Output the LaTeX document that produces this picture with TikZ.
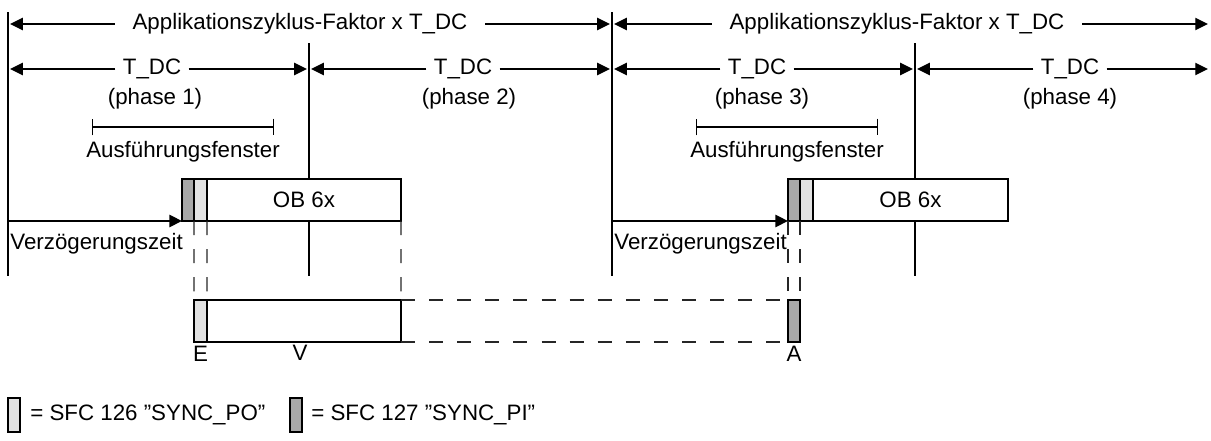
\documentclass[tikz,border=0pt]{standalone}
\usepackage{fontspec}
\setmainfont{Liberation Sans}
\usepackage{xcolor}
\usepackage{tikz}
\usetikzlibrary{arrows.meta,positioning}
\definecolor{sfcdark}{HTML}{A8A8A8}
\definecolor{sfclight}{HTML}{E2E2E2}
\tikzset{
    boundary/.style = {draw, line width=1.1pt},
    halfarrow/.style = {draw, line width=0.85pt, -{Triangle[length=7.2pt,width=7pt]}, shorten >=1.2pt},
    dimlabel/.style = {inner xsep=4pt, inner ysep=0pt},
    window/.style = {draw, line width=0.85pt, {Bar[width=9.6pt]}-{Bar[width=9.6pt]}},
    syncpi/.style = {rectangle, draw, line width=1pt, outer sep=0pt, fill=sfcdark, minimum width=0.24cm, minimum height=0.84cm, inner sep=0pt},
    syncpo/.style = {rectangle, draw, line width=1pt, outer sep=0pt, fill=sfclight, minimum width=0.26cm, minimum height=0.84cm, inner sep=0pt},
    obbox/.style = {rectangle, draw, line width=1pt, outer sep=0pt, fill=white, minimum width=3.88cm, minimum height=0.84cm, inner sep=0pt},
    legend/.style = {rectangle, draw, line width=1pt, outer sep=0pt, minimum width=0.24cm, minimum height=0.68cm, inner sep=0pt},
    guide/.style = {draw, line width=0.65pt, black!85, dash pattern=on 8pt off 8pt}
}

\begin{document}
\begin{tikzpicture}[x=0.02cm, y=-0.02cm, font=\fontsize{12.7}{14}\selectfont]
    \useasboundingbox (0,0) rectangle (1211,440);

    % phase boundaries
    \coordinate (base) at (0,276);
    \coordinate (b0) at (8,12);
    \coordinate (b1) at (309,43);
    \coordinate (b2) at (612,12);
    \coordinate (b3) at (915,43);
    \coordinate (bend) at (1210,12);
    \foreach \b in {b0,b1,b2,b3}
        \draw[boundary] (\b) -- (\b |- base);

    % application cycle
    \node[dimlabel, inner xsep=10pt] (cyc1) at (300,24) {Applikationszyklus-Faktor x T\_DC};
    \node[dimlabel, inner xsep=10pt] (cyc2) at (897,24) {Applikationszyklus-Faktor x T\_DC};
    \draw[halfarrow] (cyc1) -- (b0 |- cyc1);
    \draw[halfarrow] (cyc1) -- (b2 |- cyc1);
    \draw[halfarrow] (cyc2) -- (b2 |- cyc2);
    \draw[halfarrow] (cyc2) -- (bend |- cyc2);

    % T_DC per phase
    \node[dimlabel] (tdc1) at (152,69) {T\_DC};
    \node[dimlabel] (tdc2) at (463,69) {T\_DC};
    \node[dimlabel] (tdc3) at (757,69) {T\_DC};
    \node[dimlabel] (tdc4) at (1070,69) {T\_DC};
    \draw[halfarrow] (tdc1) -- (b0 |- tdc1);
    \draw[halfarrow] (tdc1) -- (b1 |- tdc1);
    \draw[halfarrow] (tdc2) -- (b1 |- tdc2);
    \draw[halfarrow] (tdc2) -- (b2 |- tdc2);
    \draw[halfarrow] (tdc3) -- (b2 |- tdc3);
    \draw[halfarrow] (tdc3) -- (b3 |- tdc3);
    \draw[halfarrow] (tdc4) -- (b3 |- tdc4);
    \draw[halfarrow] (tdc4) -- (bend |- tdc4);
    \node (ph1) at (155,99) {(phase 1)};
    \node (ph2) at (469,99) {(phase 2)};
    \node (ph3) at (762,99) {(phase 3)};
    \node (ph4) at (1070,99) {(phase 4)};

    % execution windows
    \coordinate (win1l) at (92,127);
    \coordinate (win1r) at (274,127);
    \coordinate (win2l) at (696,127);
    \coordinate (win2r) at (878,127);
    \draw[window] (win1l) -- (win1r);
    \draw[window] (win2l) -- (win2r);
    \node (win1) at (183,152) {Ausführungsfenster};
    \node (win2) at (787,152) {Ausführungsfenster};

    % OB 6x blocks
    \node[syncpi, anchor=north west] (pi1) at (182,179) {};
    \node[syncpo, anchor=north west] (po1) at (pi1.north east) {};
    \node[obbox, anchor=north west] (ob1) at (po1.north east) {OB 6x};
    \node[syncpi, anchor=north west] (pi2) at (788,179) {};
    \node[syncpo, anchor=north west] (po2) at (pi2.north east) {};
    \node[obbox, anchor=north west, minimum width=3.9cm] (ob2) at (po2.north east) {OB 6x};

    % delay
    \draw[halfarrow, shorten >=0pt] (b0 |- pi1.south) -- (pi1.south west);
    \draw[halfarrow, shorten >=0pt] (b2 |- pi2.south) -- (pi2.south west);
    \node[anchor=west, inner sep=0pt] (delay1) at (10,244) {Verzögerungszeit};
    \node[anchor=west, inner sep=0pt] (delay2) at (614,244) {Verzögerungszeit};

    % process image
    \node[syncpo, anchor=north west] (eblk) at (194,300) {};
    \node[obbox, anchor=north west] (vblk) at (eblk.north east) {};
    \node[syncpi, anchor=north west] (ablk) at (788,300) {};
    \node[below=2pt of eblk, inner sep=0pt] (elbl) {E};
    \node[inner sep=0pt] (vlbl) at (300,353) {V};
    \node[below=2pt of ablk, inner sep=0pt] (albl) {A};

    \draw[guide] (pi1.south east) -- (eblk.north west);
    \draw[guide] (po1.south east) -- (eblk.north east);
    \draw[guide] (ob1.south east) -- (vblk.north east);
    \draw[guide] (pi2.south west) -- (ablk.north west);
    \draw[guide] (pi2.south east) -- (ablk.north east);
    \draw[guide] (vblk.north east) -- (ablk.north west);
    \draw[guide] (vblk.south east) -- (ablk.south west);

    % legend
    \node[legend, fill=sfclight, anchor=north west] (legpo) at (8,398) {};
    \node[anchor=west, inner sep=0pt] (legpotxt) at (30,415) {= SFC 126 ”SYNC\_PO”};
    \node[legend, fill=sfcdark, anchor=north west] (legpi) at (290,398) {};
    \node[anchor=west, inner sep=0pt] (legpitxt) at (311,415) {= SFC 127 ”SYNC\_PI”};
\end{tikzpicture}
\end{document}
